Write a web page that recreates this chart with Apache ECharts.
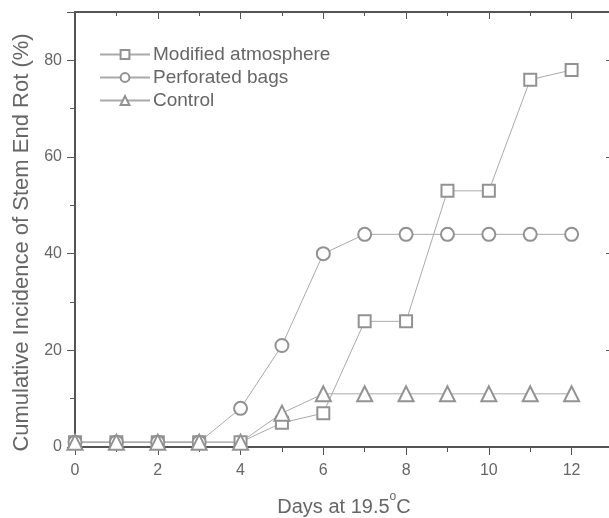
<!DOCTYPE html>
<html>
<head>
<meta charset="utf-8">
<script src="https://cdn.jsdelivr.net/npm/echarts@6/dist/echarts.min.js"></script>
<style>
  html, body { margin: 0; padding: 0; background: #fff; }
  #chart { width: 609px; height: 518px; }
</style>
</head>
<body>
<div id="chart"></div>
<script>
// days 0..12
const days = [0, 1, 2, 3, 4, 5, 6, 7, 8, 9, 10, 11, 12];
const modified = [1, 1, 1, 1, 1, 5, 7, 26, 26, 53, 53, 76, 78];
const perforated = [1, 1, 1, 1, 8, 21, 40, 44, 44, 44, 44, 44, 44];
const control = [1, 1, 1, 1, 1, 7, 11, 11, 11, 11, 11, 11, 11];

const pairs = vals => days.map((d, i) => [d, vals[i]]);

window.addEventListener('load', function () {
  const chart = echarts.init(document.getElementById('chart'));
  const axisCol = '#555';
  const textCol = '#666';
  const font = 'Liberation Sans, Arial, sans-serif';

  const baseAxis = {
    type: 'value',
    splitLine: { show: false },
    axisLine: { show: true, onZero: false, lineStyle: { color: axisCol, width: 2 } },
    axisTick: { show: true, length: 8, lineStyle: { color: axisCol, width: 1 } },
    minorTick: { show: true, splitNumber: 2, length: 5, lineStyle: { color: axisCol, width: 1 } },
    axisLabel: { color: textCol, fontFamily: font, fontSize: 16 }
  };

  function series(name, vals, symbol, size) {
    return {
      name: name,
      type: 'line',
      data: pairs(vals),
      symbol: symbol,
      symbolSize: size,
      showAllSymbol: true,
      lineStyle: { color: '#aaa', width: 1 },
      itemStyle: { color: '#929292', borderWidth: 1.1 },
      emphasis: { disabled: true },
      z: 3
    };
  }

  const option = {
    animation: false,
    backgroundColor: '#fff',
    grid: { left: 75, right: -4, top: 12, bottom: 71, containLabel: false, outerBoundsMode: 'none' },
    legend: {
      left: 94,
      top: 40,
      orient: 'vertical',
      itemGap: 4,
      itemWidth: 50,
      itemHeight: 11,
      textStyle: { color: '#666', fontFamily: font, fontSize: 19, padding: [0, 0, 0, -2] },
      data: ['Modified atmosphere', 'Perforated bags', 'Control']
    },
    xAxis: [
      Object.assign({}, baseAxis, {
        min: 0, max: 13, interval: 2,
        position: 'bottom',
        name: '{t|Days at 19.5}{sup|o}{t|C}',
        nameLocation: 'middle',
        nameGap: 44,
        nameTextStyle: {
          color: textCol, fontFamily: font, fontSize: 20,
          rich: {
            t: { fontSize: 20, lineHeight: 26, verticalAlign: 'bottom', color: textCol, fontFamily: font },
            sup: { fontSize: 12, lineHeight: 12, verticalAlign: 'top', color: textCol, fontFamily: font }
          }
        },
        axisLabel: {
          color: textCol, fontFamily: font, fontSize: 16, margin: 16,
          showMaxLabel: false
        }
      }),
      Object.assign({}, baseAxis, {
        min: 0, max: 13, interval: 2,
        position: 'top',
        axisTick: { show: true, inside: true, length: 7, lineStyle: { color: axisCol } },
        minorTick: { show: true, splitNumber: 2, length: 4, lineStyle: { color: axisCol } },
        axisLabel: { show: false }
      })
    ],
    yAxis: [
      Object.assign({}, baseAxis, {
        min: 0, max: 90, interval: 20,
        position: 'left',
        name: 'Cumulative Incidence of Stem End Rot (%)',
        nameLocation: 'middle',
        nameGap: 41,
        nameTextStyle: { color: textCol, fontFamily: font, fontSize: 22, padding: [0, 26, 0, 0] },
        axisLabel: { color: textCol, fontFamily: font, fontSize: 16, margin: 13, showMaxLabel: false }
      }),
      Object.assign({}, baseAxis, {
        min: 0, max: 90, interval: 20,
        position: 'right',
        axisTick: { show: true, inside: true, length: 7, lineStyle: { color: axisCol } },
        minorTick: { show: true, splitNumber: 2, length: 4, lineStyle: { color: axisCol } },
        axisLabel: { show: false }
      })
    ],
    series: [
      series('Modified atmosphere', modified, 'emptyRect', 12),
      series('Perforated bags', perforated, 'emptyCircle', 13),
      series('Control', control, 'emptyTriangle', 15)
    ]
  };

  chart.setOption(option);
});
</script>
</body>
</html>
